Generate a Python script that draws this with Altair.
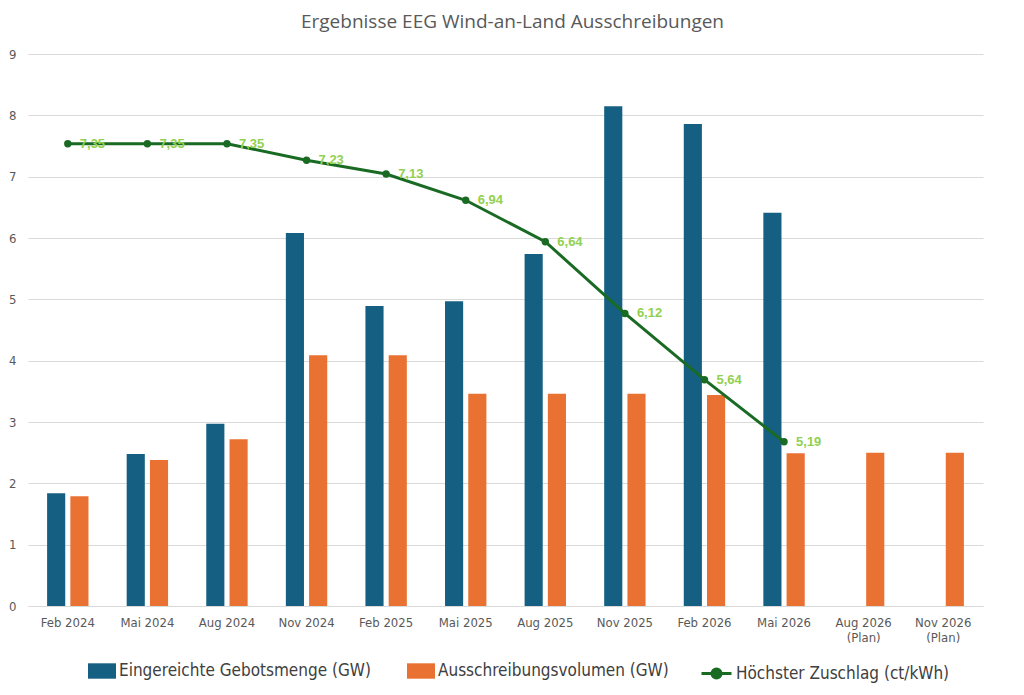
import altair as alt
import pandas as pd

termine = ["Feb 2024", "Mai 2024", "Aug 2024", "Nov 2024", "Feb 2025", "Mai 2025",
           "Aug 2025", "Nov 2025", "Feb 2026", "Mai 2026", "Aug 2026 (Plan)", "Nov 2026 (Plan)"]
gebotsmenge = [1.84, 2.48, 2.97, 6.08, 4.89, 4.97, 5.74, 8.15, 7.86, 6.41, None, None]
volumen = [1.79, 2.38, 2.72, 4.09, 4.09, 3.46, 3.46, 3.46, 3.44, 2.49, 2.50, 2.50]
zuschlag = [7.35, 7.35, 7.35, 7.23, 7.13, 6.94, 6.64, 6.12, 5.64, 5.19, None, None]

S1 = "Eingereichte Gebotsmenge (GW)"
S2 = "Ausschreibungsvolumen (GW)"
S3 = "Höchster Zuschlag (ct/kWh)"

BLUE = "#156082"
ORANGE = "#E97132"
GREEN = "#196B24"
LGREEN = "#92D050"
GRAY = "#595959"
FONT = "Liberation Sans Narrow, DejaVu Sans Condensed, Roboto, sans-serif"

rows = []
for t, g, v in zip(termine, gebotsmenge, volumen):
    if g is not None:
        rows.append({"Termin": t, "Serie": S1, "Wert": g})
    if v is not None:
        rows.append({"Termin": t, "Serie": S2, "Wert": v})
bars_df = pd.DataFrame(rows)
line_df = pd.DataFrame({"Termin": termine, "Zuschlag": zuschlag, "Serie": [S3] * len(termine)})

x_enc = alt.X(
    "Termin:N", sort=termine, title=None,
    scale=alt.Scale(paddingInner=0.48, paddingOuter=0.24),
    axis=alt.Axis(labelAngle=0, ticks=False, domainColor="#d9d9d9", labelColor=GRAY,
                  labelFontSize=13, labelFont=FONT, labelPadding=10,
                  labelExpr="indexof(datum.label, ' (Plan)') > 0 ? [replace(datum.label, ' (Plan)', ''), '(Plan)'] : datum.label"),
)

bars = alt.Chart(bars_df).mark_bar().encode(
    x=x_enc,
    xOffset=alt.XOffset("Serie:N", sort=[S1, S2], scale=alt.Scale(paddingInner=0.22)),
    y=alt.Y("Wert:Q", title=None,
            scale=alt.Scale(domain=[0, 9], nice=False),
            axis=alt.Axis(values=list(range(10)), ticks=False, domain=False, gridColor="#d9d9d9",
                          labelColor=GRAY, labelFontSize=13, labelFont=FONT, labelPadding=12)),
    color=alt.Color("Serie:N", scale=alt.Scale(domain=[S1, S2], range=[BLUE, ORANGE]),
                    legend=alt.Legend(orient="none", legendX=60, legendY=603, direction="horizontal",
                                      title=None, symbolType="M-1,-0.55H1V0.55H-1Z", symbolSize=784,
                                      symbolStrokeWidth=0, labelFontSize=17, labelFont=FONT,
                                      labelColor="#404040", columnPadding=36, labelOffset=3,
                                      padding=0, labelLimit=400)),
)

zs = alt.Scale(domain=[4, 8], nice=False)
zaxis = alt.Axis(values=[4, 4.5, 5, 5.5, 6, 6.5, 7, 7.5, 8], orient="right", grid=False, ticks=False,
                 domain=False, labelColor=LGREEN, labelFontSize=13, labelFont=FONT, labelPadding=13,
                 labelExpr="replace(toString(datum.value), '.', ',')")

base = alt.Chart(line_df).encode(x=alt.X("Termin:N", sort=termine))

line = base.mark_line(strokeWidth=3).encode(
    y=alt.Y("Zuschlag:Q", title=None, scale=zs, axis=zaxis),
    stroke=alt.Stroke("Serie:N", scale=alt.Scale(domain=[S3], range=[GREEN]),
                      legend=alt.Legend(orient="none", legendX=672, legendY=603, title=None,
                                        symbolType="M-1,0H1M0.3,0A0.3,0.3,0,1,1,-0.3,0A0.3,0.3,0,1,1,0.3,0Z",
                                        symbolSize=900, symbolStrokeWidth=3, symbolFillColor=GREEN,
                                        labelFontSize=17, labelFont=FONT, labelColor="#404040",
                                        labelOffset=3, padding=0, labelLimit=400)),
)

points = base.transform_filter("isValid(datum.Zuschlag)").mark_point(
    filled=True, size=55, color=GREEN, opacity=1
).encode(y=alt.Y("Zuschlag:Q", scale=zs, axis=None))

labels = base.transform_filter("isValid(datum.Zuschlag)").transform_calculate(
    txt="replace(format(datum.Zuschlag, '.2f'), '.', ',')"
).mark_text(align="left", baseline="middle", dx=12, fontWeight="bold", fontSize=13,
            font="Liberation Sans, Roboto, sans-serif", color=LGREEN).encode(
    y=alt.Y("Zuschlag:Q", scale=zs, axis=None), text="txt:N")

right = alt.layer(line, points, labels)

chart = alt.layer(bars, right).resolve_scale(
    y="independent", color="independent", xOffset="independent"
).properties(
    width=955, height=552,
    autosize=alt.AutoSizeParams(type="none"),
    padding={"left": 20, "top": 46, "right": 33, "bottom": 81},
    title=alt.Title("Ergebnisse EEG Wind-an-Land Ausschreibungen", fontSize=19,
                    font="Open Sans, Roboto, sans-serif", fontWeight="normal",
                    color=GRAY, anchor="middle", offset=16, dx=7),
    background="white",
).configure_view(stroke=None)

chart.save("out.html", embed_options={"renderer": "svg", "actions": False})
